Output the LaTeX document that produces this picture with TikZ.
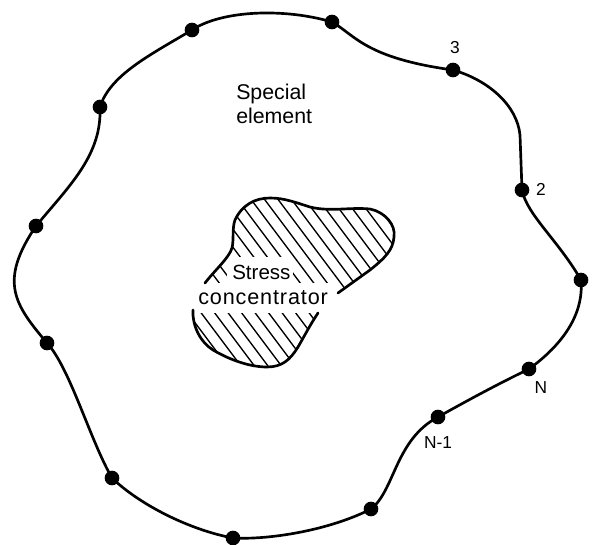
\documentclass[tikz,border=0pt]{standalone}
\usepackage{fontspec}
\setmainfont{Liberation Sans}
\newfontfamily\spacedfont[LetterSpace=4]{Liberation Sans}
\tikzset{
  bnode/.style={circle,fill=black,inner sep=0pt,minimum size=11pt},
  edge line/.style={line width=2pt,line cap=round},
  hatch line/.style={line width=1pt},
  num/.style={font=\fontsize{13}{15}\selectfont,inner sep=0pt},
  lab/.style={font=\fontsize{16}{18}\selectfont,inner sep=0pt,anchor=base west},
  knock/.style={fill=white,inner sep=0pt}
}
\begin{document}
\begin{tikzpicture}[x=0.75pt,y=-0.75pt]
\useasboundingbox (0,0) rectangle (596,545);
% outer nodes
\node[bnode] (n3) at (453,70) {};
\node[bnode] (n2) at (522,190) {};
\node[bnode] (n1) at (581,280) {};
\node[bnode] (nN) at (529,369) {};
\node[bnode] (nM) at (438,417) {};
\node[bnode] (a) at (371,509) {};
\node[bnode] (b) at (233,538) {};
\node[bnode] (c) at (112,478) {};
\node[bnode] (d) at (47,343) {};
\node[bnode] (e) at (36,226) {};
\node[bnode] (f) at (100,107) {};
\node[bnode] (g) at (192,30) {};
\node[bnode] (h) at (332,22) {};
\coordinate (t1) at (520,135);
\draw[edge line] (n3.center) .. controls (488,80) and (517,105) .. (t1) -- (n2.center);
\draw[edge line] (n2.center) .. controls (527,215) and (558,240) .. (n1.center);
\draw[edge line] (n1.center) .. controls (584,315) and (562,345) .. (nN.center);
\draw[edge line] (nN.center) .. controls (500,383) and (470,399) .. (nM.center);
\draw[edge line] (nM.center) .. controls (395,440) and (395,490) .. (a.center);
\draw[edge line] (a.center) .. controls (330,530) and (270,540) .. (b.center);
\draw[edge line] (b.center) .. controls (190,530) and (140,505) .. (c.center);
\draw[edge line] (c.center) .. controls (90,440) and (70,368) .. (d.center);
\draw[edge line] (d.center) .. controls (15,305) and (-2,282) .. (e.center);
\draw[edge line] (e.center) .. controls (70,185) and (102,155) .. (f.center);
\draw[edge line] (f.center) .. controls (110,75) and (150,55) .. (g.center);
\draw[edge line] (g.center) .. controls (222,10) and (285,8) .. (h.center);
\draw[edge line] (h.center) .. controls (355,35) and (365,58) .. (n3.center);
% labels
\node[num] (l3) at (455,48) {3};
\node[num] (l2) at (541,189) {2};
\node[num] (lN) at (541,388) {N};
\node[num] (lM) at (438,443) {N-1};
\node[lab] (sp) at (236,100) {Special};
\node[lab] (el) at (236,124) {element};
% hatching
\begin{scope}
\clip (235,220) .. controls (242,205) and (255,198) .. (270,198)
  .. controls (285,198) and (297,203) .. (310,207)
  .. controls (330,212) and (350,207) .. (370,209)
  .. controls (385,212) and (396,225) .. (394,237)
  .. controls (393,250) and (385,258) .. (370,270)
  -- (338,293) -- (318,313)
  .. controls (310,325) and (305,335) .. (298,347)
  .. controls (290,360) and (282,367) .. (267,367)
  .. controls (250,367) and (230,360) .. (213,350)
  .. controls (200,342) and (192,325) .. (193,310)
  -- (205,283) .. controls (215,270) and (229,258) .. (232,248)
  .. controls (234,240) and (232,228) .. (235,220) -- cycle;
\foreach \i in {0,...,30} {
  \draw[hatch line] ({34+13.5*\i},180) -- ({34+13.5*\i+150},{180+200});
}
\end{scope}
\node[knock,minimum width=49.5pt,minimum height=19.5pt] (bgs) at (260,270) {};
\node[knock,minimum width=112pt,minimum height=22.5pt] (bgc) at (262,298) {};
% blob outline
\coordinate (p1) at (205,283);
\coordinate (p2) at (338,293);
\coordinate (p3) at (318,313);
\coordinate (p4) at (193,310);
\draw[edge line] (p1) .. controls (215,270) and (229,258) .. (232,248)
  .. controls (234,240) and (232,228) .. (235,220)
  .. controls (242,205) and (255,198) .. (270,198)
  .. controls (285,198) and (297,203) .. (310,207)
  .. controls (330,212) and (350,207) .. (370,209)
  .. controls (385,212) and (396,225) .. (394,237)
  .. controls (393,250) and (385,258) .. (370,270)
  -- (p2);
\draw[edge line] (p3) .. controls (310,325) and (305,335) .. (298,347)
  .. controls (290,360) and (282,367) .. (267,367)
  .. controls (250,367) and (230,360) .. (213,350)
  .. controls (200,342) and (192,325) .. (p4);
\node[lab,font=\fontsize{15.4}{18}\selectfont] (st) at (232,280) {Stress};
\node[lab,font=\spacedfont\fontsize{16.2}{20}\selectfont] (co) at (198,305) {concentrator};
\end{tikzpicture}
\end{document}
